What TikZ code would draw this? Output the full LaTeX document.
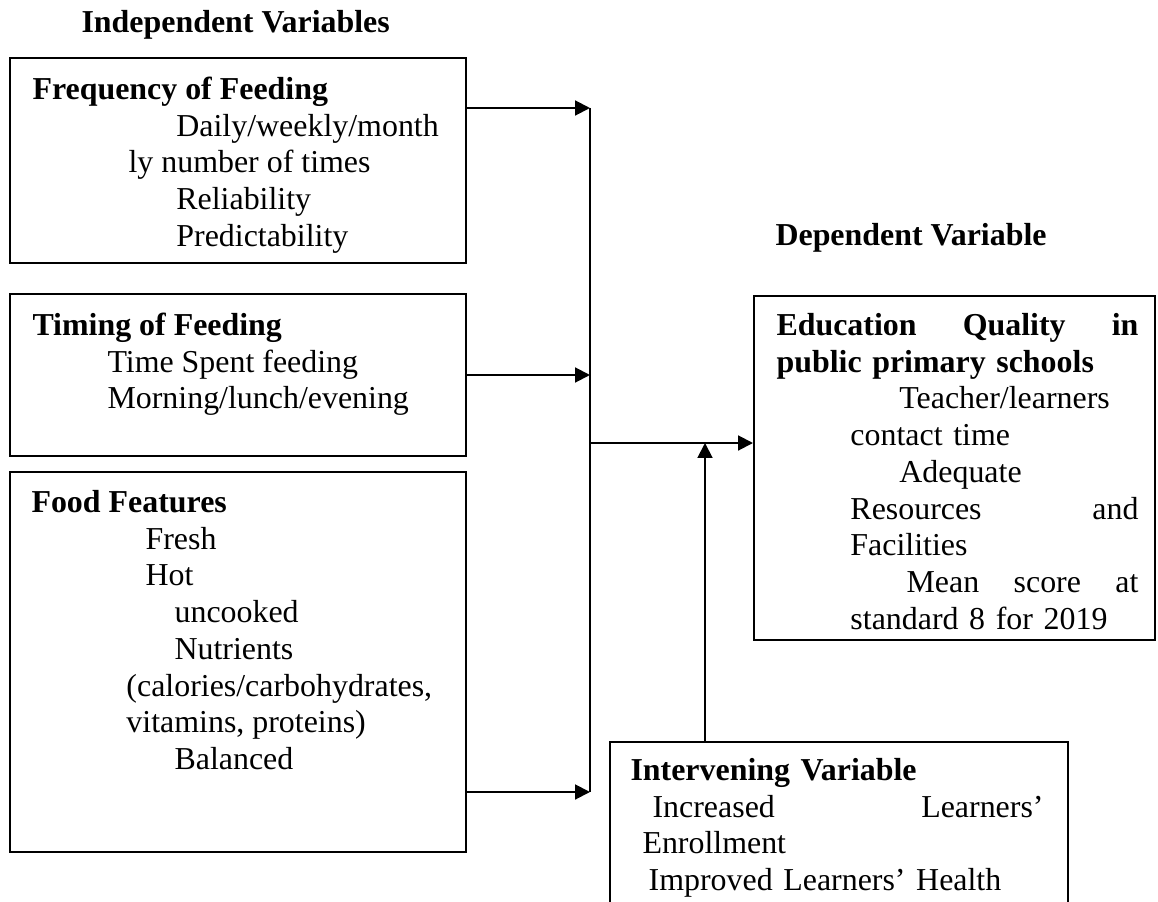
\documentclass[tikz,border=0pt]{standalone}
\usepackage{fontspec}
\setmainfont{Liberation Serif}
\usetikzlibrary{arrows.meta, positioning, fit, calc, backgrounds}

\begin{document}
\begin{tikzpicture} [
    x=0.376pt, y=-0.376pt,
    box/.style={rectangle, draw=black, line width=0.75pt, inner sep=0pt},
    boxtext/.style={anchor=north west, inner sep=0pt, align=left, font=\fontsize{12pt}{13.8pt}\selectfont},
    heading/.style={anchor=base west, inner sep=0pt, font=\fontsize{12pt}{13.8pt}\selectfont\bfseries},
    arrow/.style={-{Triangle[length=5.6pt, width=5.6pt]}, line width=0.75pt},
    link/.style={line width=0.75pt}
]
\useasboundingbox (0,0) rectangle (1158,902);

% Titles
\node[heading] (indep_title) at (81,33) {Independent Variables};
\node[heading] (dep_title) at (775,246) {Dependent Variable};

% Boxes
\node[box, fit={(10,58) (466,263)}] (freq) {};
\node[box, fit={(10,294) (466,456)}] (timing) {};
\node[box, fit={(10,472) (466,852)}] (food) {};
\node[box, fit={(754,296) (1155,640)}] (dep) {};
\node[box, fit={(610,742) (1068,915)}] (interv) {};

% Box texts
\node[boxtext] (freq_text) at (32,73.3) {\strut\textbf{Frequency of Feeding}\\ \hspace*{54.1pt}Daily/weekly/month\\ \hspace*{36.1pt}ly number of times\\ \hspace*{54.1pt}Reliability\\ \hspace*{54.1pt}Predictability};
\node[boxtext] (timing_text) at (32,309.3) {\strut\textbf{Timing of Feeding}\\ \hspace*{28.2pt}Time Spent feeding\\ \hspace*{28.2pt}Morning/lunch/evening};
\node[boxtext] (food_text) at (31,486.3) {\strut\textbf{Food Features}\\ \hspace*{42.9pt}Fresh\\ \hspace*{42.9pt}Hot\\ \hspace*{53.8pt}uncooked\\ \hspace*{53.8pt}Nutrients\\ \hspace*{35.7pt}(calories/carbohydrates,\\ \hspace*{35.7pt}vitamins, proteins)\\ \hspace*{53.8pt}Balanced};
\node[boxtext, text width=136.1pt] (dep_text) at (776,309.3) {\strut\textbf{Education\hfill Quality\hfill in}\\ \textbf{public primary schools}\\ \hspace*{46.2pt}Teacher/learners\\ \hspace*{27.8pt}contact time\\ \hspace*{46.2pt}Adequate\\ \hspace*{27.8pt}Resources\hfill and\\ \hspace*{27.8pt}Facilities\\ \hspace*{48.9pt}Mean\hfill score\hfill at\\ \hspace*{27.8pt}standard 8 for 2019};
\node[boxtext, text width=155.3pt] (interv_text) at (630,754.3) {\strut\textbf{Intervening Variable}\\ \hspace*{8.3pt}Increased\hfill Learners'\\ \hspace*{4.5pt}Enrollment\\ \hspace*{6.8pt}Improved Learners' Health};

% Connectors
\coordinate (bus_top) at (590,108);
\coordinate (bus_bottom) at (590,792);
\coordinate (junction) at (590,443);
\coordinate (meet) at (705,443);

\begin{scope}[on background layer]
    \draw[link] (bus_top) -- (bus_bottom);
    \draw[arrow] (freq.east |- bus_top) -- (bus_top);
    \draw[arrow] (timing.east) -- (timing.east -| bus_top);
    \draw[arrow] (food.east |- bus_bottom) -- (bus_bottom);
    \draw[arrow] (junction) -- (junction -| dep.west);
    \draw[arrow] (interv.north -| meet) -- (meet);
\end{scope}

\end{tikzpicture}
\end{document}
